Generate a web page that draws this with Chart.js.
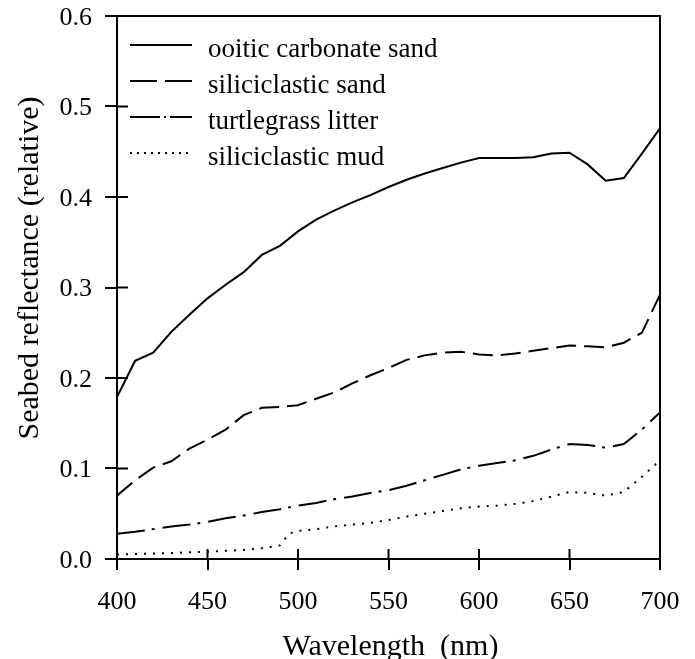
<!DOCTYPE html>
<html>
<head>
<meta charset="utf-8">
<script src="https://cdn.jsdelivr.net/npm/chart.js@4.4.1/dist/chart.umd.min.js"></script>
<style>
  html, body { margin: 0; padding: 0; background: #fff; }
  #wrap { width: 695px; height: 659px; }
</style>
</head>
<body>
<div id="wrap"><canvas id="chart" width="695" height="659"></canvas></div>
<script>
// wavelengths (nm) and reflectance
const wavelengths = [400, 410, 420, 430, 440, 450, 460, 470, 480, 490, 500, 510, 520, 530, 540, 550,
                     560, 570, 580, 590, 600, 610, 620, 630, 640, 650, 660, 670, 680, 690, 700];
const mudWavelengths = [400, 410, 420, 430, 440, 450, 460, 470, 480, 490, 495, 500, 510, 520, 530, 540, 550,
                        560, 570, 580, 590, 600, 610, 620, 630, 640, 650, 660, 670, 680, 690, 700];

const carbonateSand = [0.179, 0.219, 0.228, 0.251, 0.270, 0.288, 0.303, 0.317, 0.336, 0.346, 0.362,
                       0.375, 0.385, 0.394, 0.402, 0.411, 0.419, 0.426, 0.432, 0.438, 0.443,
                       0.443, 0.443, 0.444, 0.448, 0.449, 0.436, 0.418, 0.421, 0.448, 0.476];
const siliciclasticSand = [0.070, 0.087, 0.101, 0.108, 0.122, 0.132, 0.143, 0.159, 0.167, 0.168, 0.170,
                           0.177, 0.184, 0.194, 0.203, 0.211, 0.220, 0.225, 0.228, 0.229, 0.226,
                           0.225, 0.227, 0.230, 0.233, 0.236, 0.235, 0.234, 0.239, 0.250, 0.292];
const turtlegrassLitter = [0.028, 0.030, 0.033, 0.036, 0.038, 0.041, 0.045, 0.048, 0.052, 0.055, 0.059,
                           0.062, 0.066, 0.069, 0.073, 0.076, 0.081, 0.087, 0.093, 0.099, 0.103,
                           0.106, 0.109, 0.114, 0.121, 0.127, 0.126, 0.123, 0.127, 0.143, 0.162];
const siliciclasticMud = [0.005, 0.0055, 0.006, 0.0066, 0.0074, 0.008, 0.009, 0.010, 0.012, 0.015, 0.028,
                          0.031, 0.033, 0.036, 0.038, 0.040, 0.043, 0.047, 0.050, 0.053, 0.056, 0.058,
                          0.059, 0.061, 0.064, 0.069, 0.074, 0.073, 0.070, 0.074, 0.091, 0.109];

const seriesNames = ['ooitic carbonate sand', 'siliciclastic sand', 'turtlegrass litter', 'siliciclastic mud'];
const yTicks = [0, 0.1, 0.2, 0.3, 0.4, 0.5, 0.6];
const xTicks = [400, 450, 500, 550, 600, 650, 700];

const serif = "'Liberation Serif', 'Times New Roman', serif";

function pairs(xs, ys) {
    return xs.map((x, i) => ({ x: x, y: ys[i] }));
}

function makeSet(label, data, dash, legendDash) {
    return {
        label: label,
        data: data,
        borderColor: '#000',
        borderWidth: 2,
        borderDash: dash,
        legendDash: legendDash,
        pointRadius: 0,
        tension: 0,
        fill: false
    };
}

// frame, inward ticks, legend and axis titles
const decorations = {
    id: 'decorations',
    afterDraw(chart) {
        const ctx = chart.ctx;
        const a = chart.chartArea;
        const xs = chart.scales.x, ys = chart.scales.y;
        ctx.save();
        ctx.strokeStyle = '#000';
        ctx.lineWidth = 2;
        ctx.setLineDash([]);
        ctx.beginPath();
        ctx.moveTo(a.left - 12, a.top);
        ctx.lineTo(a.right, a.top);
        ctx.lineTo(a.right, a.bottom);
        ctx.stroke();
        // inward halves of the tick marks
        ctx.beginPath();
        yTicks.forEach(v => {
            const y = ys.getPixelForValue(v);
            ctx.moveTo(a.left, y);
            ctx.lineTo(a.left + 11, y);
        });
        xTicks.forEach(v => {
            const x = xs.getPixelForValue(v);
            ctx.moveTo(x, a.bottom);
            ctx.lineTo(x, a.bottom - 10);
        });
        ctx.stroke();

        // legend
        ctx.font = '27px ' + serif;
        ctx.fillStyle = '#000';
        ctx.textAlign = 'left';
        ctx.textBaseline = 'alphabetic';
        chart.data.datasets.forEach((ds, i) => {
            const y = 45 + i * 36;
            ctx.setLineDash(ds.legendDash || []);
            ctx.beginPath();
            ctx.moveTo(130, y);
            ctx.lineTo(192, y);
            ctx.stroke();
            ctx.fillText(ds.label, 208, y + 12);
        });
        ctx.setLineDash([]);

        // axis titles
        ctx.font = '30px ' + serif;
        ctx.textAlign = 'center';
        ctx.fillText('Wavelength  (nm)', (a.left + a.right) / 2 + 2, 655);
        ctx.translate(38, 268);
        ctx.rotate(-Math.PI / 2);
        ctx.fillText('Seabed reflectance (relative)', 0, 0);
        ctx.restore();
    }
};

new Chart(document.getElementById('chart'), {
    type: 'line',
    data: {
        datasets: [
            makeSet(seriesNames[0], pairs(wavelengths, carbonateSand), [], []),
            makeSet(seriesNames[1], pairs(wavelengths, siliciclasticSand), [20, 8], [27, 8]),
            makeSet(seriesNames[2], pairs(wavelengths, turtlegrassLitter), [28, 7, 3, 8], [30, 4, 2, 4]),
            makeSet(seriesNames[3], pairs(mudWavelengths, siliciclasticMud), [2, 7], [2, 5])
        ]
    },
    options: {
        responsive: false,
        animation: false,
        layout: { padding: { top: 16, right: 35, left: 0, bottom: 0 } },
        plugins: {
            legend: { display: false },
            tooltip: { enabled: false }
        },
        scales: {
            x: {
                type: 'linear',
                min: 400,
                max: 700,
                afterFit(scale) {
                    scale.height = 100;
                    scale.paddingLeft = 0;
                    scale.paddingRight = 0;
                },
                afterBuildTicks(scale) { scale.ticks = xTicks.map(v => ({ value: v })); },
                border: { display: true, color: '#000', width: 2 },
                grid: { drawOnChartArea: false, drawTicks: true, tickLength: 11, color: '#000', lineWidth: 2 },
                ticks: { color: '#000', padding: 17, font: { family: serif, size: 26 } }
            },
            y: {
                min: 0,
                max: 0.6,
                afterFit(scale) {
                    scale.width = 117;
                    scale.paddingTop = 0;
                    scale.paddingBottom = 0;
                },
                afterBuildTicks(scale) { scale.ticks = yTicks.map(v => ({ value: v })); },
                border: { display: true, color: '#000', width: 2 },
                grid: { drawOnChartArea: false, drawTicks: true, tickLength: 12, color: '#000', lineWidth: 2 },
                ticks: {
                    color: '#000',
                    padding: 13,
                    labelOffset: 2,
                    font: { family: serif, size: 26 },
                    callback: v => v.toFixed(1)
                }
            }
        }
    },
    plugins: [decorations]
});
</script>
</body>
</html>
